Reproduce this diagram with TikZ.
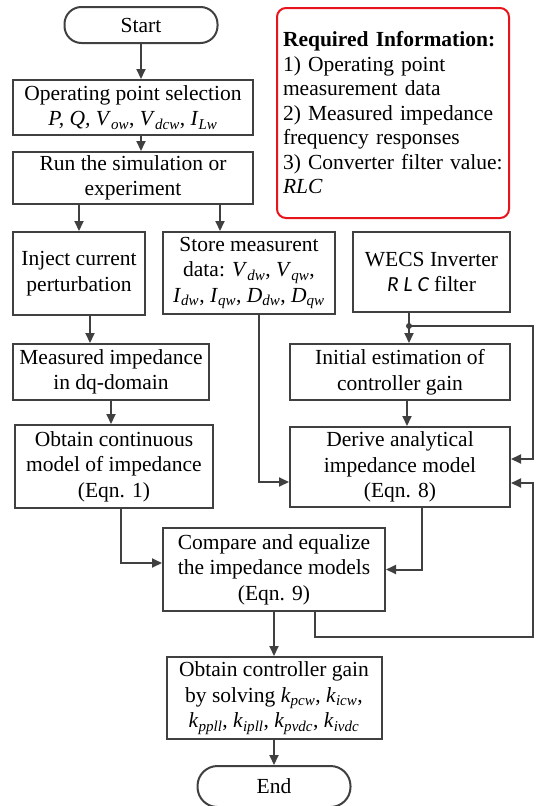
\documentclass[tikz,border=0pt]{standalone}
\usepackage{fontspec}
\setmainfont{Liberation Serif}
\newfontfamily\calibrifont{Carlito}
\usetikzlibrary{positioning, arrows.meta, calc}
\definecolor{linegray}{HTML}{404040}
\definecolor{infored}{HTML}{E8141B}
\newcommand{\qsub}[2]{\textit{#1}\textsubscript{\textit{#2}}}

\begin{document}
\begin{tikzpicture}[
	x=1pt, y=-1pt,
	node distance=20pt,
	% --- STYLES ---
	procblock/.style={
		rectangle, draw=linegray, line width=2pt, fill=white,
		align=center, inner sep=2pt, font=\fontsize{21.5}{25.5}\selectfont
	},
	termblock/.style={
		rectangle, draw=linegray, line width=2pt, rounded corners=17pt,
		minimum width=153pt, align=center, font=\fontsize{21.5}{25.5}\selectfont
	},
	infobox/.style={
		rectangle, draw=infored, line width=2pt, rounded corners=9pt,
		align=left, text width=220pt, inner sep=6pt, font=\fontsize{21.5}{24.5}\selectfont
	},
	line/.style={
		draw=linegray, line width=2pt, -{Triangle[length=10pt,width=9pt]}
	},
	dot/.style={
		circle, fill=linegray, inner sep=0pt, minimum size=6pt
	}
	]
	\useasboundingbox (0,0) rectangle (537,806);
	
	% ==========================================
	% 1. Start, operating point and simulation
	% ==========================================
	\node [termblock, minimum height=36pt] (start) at (141,25) {Start};
	\node [procblock, minimum width=240pt, minimum height=55pt] (op) at (133,107.5)
		{Operating point selection\\\textit{P, Q, }\qsub{V}{ow}, \qsub{V}{dcw}, \qsub{I}{Lw}};
	\node [procblock, minimum width=240pt, minimum height=52pt, below=15pt of op] (run)
		{Run the simulation or\\experiment};
	\draw [line] (start.south) -- (start.south |- op.north);
	\draw [line] (op.south -| start.south) -- (run.north -| start.south);
	
	% info box
	\node [infobox, minimum height=210pt] (info) at (393,113)
		{\textbf{Required Information:}\\1) Operating point\\measurement data\\2) Measured impedance\\frequency responses\\3) Converter filter value:\\\textit{RLC}};
	
	% ==========================================
	% 2. Three columns
	% ==========================================
	\node [procblock, minimum width=132pt, minimum height=83pt] (inject) at (79,273.5)
		{Inject current\\perturbation};
	\node [procblock, minimum width=172pt, minimum height=82pt] (store) at (249,273)
		{Store measurent\\data: \qsub{V}{dw}, \qsub{V}{qw},\\\qsub{I}{dw}, \qsub{I}{qw}, \qsub{D}{dw}, \qsub{D}{qw}};
	\node [procblock, minimum width=157pt, minimum height=80pt] (wecs) at (431.5,272)
		{WECS Inverter\\{\calibrifont\itshape R L C} filter};
	\draw [line] (run.south -| inject.north) -- (inject.north);
	\draw [line] ([xshift=-29pt]store.north |- run.south) -- ([xshift=-29pt]store.north);
	
	\node [procblock, minimum width=196pt, minimum height=56pt] (measured) at (111,372)
		{Measured impedance\\in dq-domain};
	\node [procblock, minimum width=198pt, minimum height=83pt] (obtain) at (114,466.5)
		{Obtain continuous\\model of impedance\\(Eqn. 1)};
	\draw [line] ([xshift=11pt]inject.south) -- ([xshift=11pt]inject.south |- measured.north);
	\draw [line] (measured.south) -- (measured.south |- obtain.north);
	
	\node [procblock, minimum width=220pt, minimum height=56pt] (initial) at (400,372)
		{Initial estimation of\\controller gain};
	\node [procblock, minimum width=220pt, minimum height=80pt] (derive) at (400,467)
		{Derive analytical\\impedance model\\(Eqn. 8)};
	\coordinate (split_wecs) at ($(wecs.south)+(-22.5,13)$);
	\draw [line] ([xshift=-22.5pt]wecs.south) -- ([xshift=-22.5pt]wecs.south |- initial.north);
	\node [dot] at (split_wecs) {};
	\draw [line] ([xshift=7pt]initial.south) -- ([xshift=7pt]initial.south |- derive.north);
	\draw [line] ([xshift=10pt]store.south) |- ([yshift=-15pt]derive.west);
	
	% ==========================================
	% 3. Compare, feedback and end
	% ==========================================
	\node [procblock, minimum width=222pt, minimum height=83pt] (compare) at (274,569.5)
		{Compare and equalize\\the impedance models\\(Eqn. 9)};
	\draw [line] ([xshift=7pt]obtain.south) |- ([yshift=6.5pt]compare.west);
	\draw [line] ([xshift=22pt]derive.south) |- (compare.east);
	
	% feedback loops
	\coordinate (rail) at (533,0);
	\coordinate (fb_in1) at ([yshift=8pt]derive.east);
	\coordinate (fb_in2) at ([yshift=-16pt]derive.east);
	\draw [line] (split_wecs) -- (split_wecs -| rail) -- (rail |- fb_in1) -- (fb_in1);
	\draw [line] ([xshift=41pt]compare.south) -- ++(0,25) -| (rail |- fb_in2) -- (fb_in2);
	
	\node [procblock, minimum width=215pt, minimum height=82pt, below=44pt of compare] (gain)
		{Obtain controller gain\\by solving \qsub{k}{pcw}, \qsub{k}{icw},\\\qsub{k}{ppll}, \qsub{k}{ipll}, \qsub{k}{pvdc}, \qsub{k}{ivdc}};
	\draw [line] (compare.south) -- (gain.north);
	
	\node [termblock, minimum height=41pt, rounded corners=20pt, below=25pt of gain] (end_node) {End};
	\draw [line] (gain.south) -- (end_node.north);
\end{tikzpicture}
\end{document}
